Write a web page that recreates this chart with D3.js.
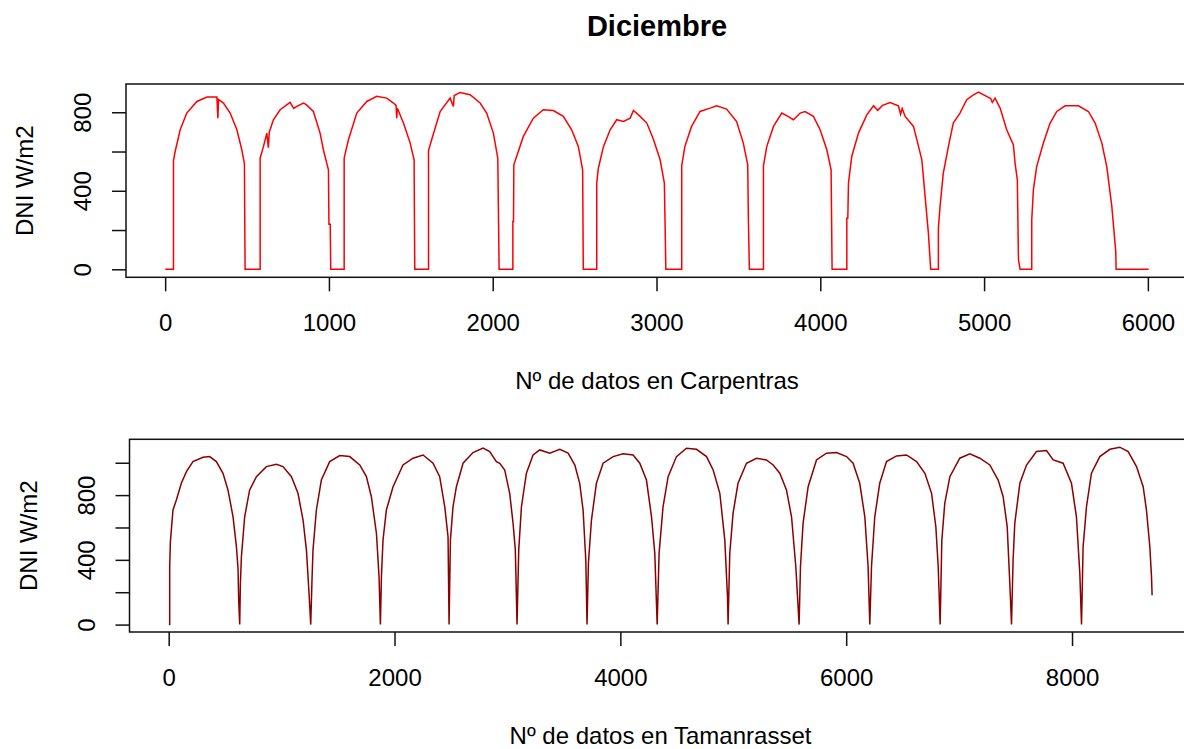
<!DOCTYPE html>
<html>
<head>
<meta charset="utf-8">
<script src="https://cdn.jsdelivr.net/npm/d3@7"></script>
<style>
	body{ margin:0; background:#fff; }
	svg{ display:block; }
	text{ font-family:'Liberation Sans', Arial, sans-serif; fill:#000; }
</style>
</head>
<body>
<svg id="vis" width="1184" height="749"></svg>
<script>
// Diciembre -- DNI as [n de dato, W/m2]
var carpentras = [
	[1,0],[51,0],[51,554],[61,600],[92,711],[132,796],[194,855],[255,878],[316,878],[322,770],[326,865],[356,847],[397,796],[438,711],[468,609],[484,537],[488,0],
	[580,0],[580,566],[600,625],[621,694],[630,620],[636,700],[661,762],[702,813],[763,850],[785,820],[804,830],[844,847],[860,840],[905,804],[946,694],[966,609],[997,507],[1000,230],[1008,230],[1011,0],
	[1093,0],[1093,566],[1119,660],[1170,796],[1231,855],[1292,881],[1353,872],[1394,847],[1410,835],[1414,770],[1418,820],[1455,745],[1496,643],[1520,558],[1524,0],
	[1608,0],[1608,605],[1627,660],[1679,804],[1740,872],[1760,830],[1765,885],[1801,901],[1862,889],[1923,847],[1963,796],[2004,694],[2031,566],[2039,0],
	[2123,0],[2123,243],[2127,243],[2129,532],[2146,575],[2187,677],[2248,770],[2309,813],[2370,809],[2431,779],[2482,711],[2523,625],[2549,507],[2553,0],
	[2635,0],[2635,439],[2645,515],[2676,625],[2717,711],[2757,762],[2798,753],[2839,770],[2859,809],[2900,779],[2941,745],[2982,660],[3022,558],[3048,439],[3057,0],
	[3154,0],[3154,527],[3173,625],[3214,728],[3266,804],[3327,821],[3367,833],[3428,816],[3489,753],[3530,643],[3557,532],[3561,251],[3567,0],
	[3653,0],[3653,527],[3673,625],[3714,728],[3765,796],[3800,780],[3836,762],[3877,796],[3907,804],[3958,779],[3999,711],[4040,609],[4066,507],[4072,0],
	[4162,0],[4162,260],[4168,260],[4172,439],[4192,575],[4233,694],[4284,787],[4325,833],[4350,810],[4380,835],[4426,850],[4477,833],[4490,790],[4500,820],[4518,779],[4569,728],[4600,625],[4620,558],[4640,370],[4660,184],[4674,0],
	[4721,0],[4721,209],[4731,319],[4751,490],[4782,625],[4812,745],[4853,796],[4894,864],[4935,889],[4966,903],[5015,881],[5040,870],[5050,850],[5067,872],[5098,821],[5138,711],[5179,634],[5189,541],[5203,456],[5210,48],[5220,0],
	[5291,0],[5291,251],[5301,405],[5321,523],[5362,643],[5403,745],[5444,804],[5495,833],[5576,833],[5637,804],[5678,745],[5719,643],[5749,523],[5780,319],[5804,90],[5806,0],[6005,0]
];
var tamanrasset = [
	[1,0],[9,0],[9,357],[15,511],[38,708],[68,770],[112,873],[157,945],[215,1007],[304,1034],[363,1038],[422,1007],[481,935],[525,832],[570,666],[600,480],[614,347],[620,150],[629,0],
	[635,254],[644,419],[673,666],[717,832],[777,914],[865,976],[954,991],[1012,976],[1087,914],[1145,811],[1190,646],[1220,460],[1243,192],[1258,0],
	[1269,274],[1278,460],[1308,708],[1352,893],[1426,1007],[1515,1044],[1603,1038],[1692,986],[1751,914],[1795,790],[1840,563],[1863,295],[1875,0],
	[1884,295],[1898,522],[1928,708],[1987,852],[2075,986],[2164,1028],[2253,1048],[2341,997],[2400,914],[2445,728],[2474,542],[2483,0],
	[2495,522],[2518,728],[2548,852],[2607,997],[2695,1063],[2784,1090],[2843,1069],[2902,1007],[2932,997],[2976,955],[3020,811],[3050,625],[3070,460],[3085,0],
	[3100,460],[3124,728],[3168,935],[3227,1048],[3286,1079],[3375,1059],[3463,1083],[3537,1059],[3597,986],[3640,873],[3670,708],[3694,398],[3705,0],
	[3717,377],[3744,646],[3788,873],[3847,997],[3936,1038],[4024,1055],[4113,1048],[4172,997],[4231,893],[4276,666],[4305,440],[4326,0],
	[4343,440],[4378,728],[4423,914],[4497,1038],[4585,1090],[4674,1083],[4763,1038],[4822,955],[4881,811],[4925,522],[4949,171],[4954,0],
	[4969,440],[4998,687],[5042,873],[5117,997],[5206,1028],[5294,1017],[5353,986],[5412,935],[5471,832],[5516,666],[5554,357],[5583,0],
	[5595,357],[5618,625],[5663,852],[5737,1017],[5825,1059],[5914,1063],[6003,1038],[6061,997],[6120,873],[6165,666],[6194,357],[6209,0],
	[6224,357],[6253,666],[6297,873],[6357,1007],[6446,1042],[6534,1048],[6623,1007],[6697,935],[6756,811],[6794,604],[6815,357],[6832,0],
	[6847,522],[6873,749],[6918,914],[7006,1028],[7095,1055],[7183,1028],[7272,986],[7346,893],[7390,790],[7426,604],[7449,254],[7464,0],
	[7478,398],[7493,625],[7538,873],[7597,986],[7685,1069],[7774,1075],[7833,1017],[7921,997],[7995,873],[8039,666],[8069,316],[8084,0],
	[8098,480],[8128,728],[8172,935],[8246,1038],[8335,1083],[8423,1096],[8497,1069],[8571,976],[8630,852],[8659,708],[8689,480],[8704,295],[8709,181]
];

var title = 'Diciembre';
var xTicksTop = [0,1000,2000,3000,4000,5000,6000];
var xTicksBot = [0,2000,4000,6000,8000];
var yTicksTop = [0,200,400,600,800];
var yTicksBot = [0,200,400,600,800,1000];
var yLabels = [0,400,800];

window.onload = function(){

	return {

		w:1184,
		h:749,

		panels:[
			{ data:carpentras, color:'#ff0000', xlab:'N\u00ba de datos en Carpentras',
				xdom:[-239,6245], ydom:[-40.8,944], left:126, right:1188, top:84, bottom:277.3,
				xticks:xTicksTop, yticks:yTicksTop },
			{ data:tamanrasset, color:'#8b0000', xlab:'N\u00ba de datos en Tamanrasset',
				xdom:[-347,9058], ydom:[-45.8,1144.8], left:129.5, right:1191.5, top:439.3, bottom:632,
				xticks:xTicksBot, yticks:yTicksBot }
		],

		generate:function(){
			var self = this;
			var svg = d3.select('#vis');

			svg.append('text')
				.attr('x',657)
				.attr('y',35.5)
				.attr('text-anchor','middle')
				.style('font-size','29px')
				.style('font-weight','bold')
				.text(title);

			self.panels.forEach(function(p){ self.drawPanel(svg,p); });
		},
		drawPanel:function(svg,p){
			var x = d3.scaleLinear().domain(p.xdom).range([p.left,p.right]),
				y = d3.scaleLinear().domain(p.ydom).range([p.bottom,p.top]);

			var g = svg.append('g');

			var line = d3.line()
				.x(function(d){ return x(d[0]); })
				.y(function(d){ return y(d[1]); });

			g.append('path')
				.datum(p.data)
				.attr('d',line)
				.attr('fill','none')
				.attr('stroke',p.color)
				.attr('stroke-width',1.5)
				.attr('stroke-linejoin','miter');

			g.append('rect')
				.attr('x',p.left)
				.attr('y',p.top)
				.attr('width',p.right -p.left)
				.attr('height',p.bottom -p.top)
				.attr('fill','none')
				.attr('stroke','#111')
				.attr('stroke-width',1.5);

			var xa = g.append('g')
				.attr('transform','translate(0,' +p.bottom +')')
				.call(d3.axisBottom(x).tickValues(p.xticks).tickSize(14).tickFormat(d3.format('d')));
			xa.select('.domain').remove();
			xa.selectAll('line').attr('stroke','#111').attr('stroke-width',1.5);
			xa.selectAll('text')
				.attr('y',54)
				.attr('dy',0)
				.attr('fill','#000')
				.style('font-size','24px')
				.style('font-family',"'Liberation Sans', Arial, sans-serif");

			var ya = g.append('g')
				.attr('transform','translate(' +p.left +',0)')
				.call(d3.axisLeft(y).tickValues(p.yticks).tickSize(14)
					.tickFormat(function(d){ return yLabels.indexOf(d) > -1 ? d : ''; }));
			ya.select('.domain').remove();
			ya.selectAll('line').attr('stroke','#111').attr('stroke-width',1.5);
			ya.selectAll('text')
				.attr('x',0)
				.attr('y',-35)
				.attr('dy',0)
				.attr('transform','rotate(-90)')
				.attr('text-anchor','middle')
				.attr('fill','#000')
				.style('font-size','24px')
				.style('font-family',"'Liberation Sans', Arial, sans-serif");

			g.append('text')
				.attr('x',(p.left +p.right)/2)
				.attr('y',p.bottom +111.6)
				.attr('text-anchor','middle')
				.style('font-size','24px')
				.text(p.xlab);

			g.append('text')
				.attr('transform','translate(' +(p.left -93) +',' +((p.top +p.bottom)/2) +') rotate(-90)')
				.attr('text-anchor','middle')
				.style('font-size','24px')
				.text('DNI W/m2');
		}
	}
}().generate();
</script>
</body>
</html>
